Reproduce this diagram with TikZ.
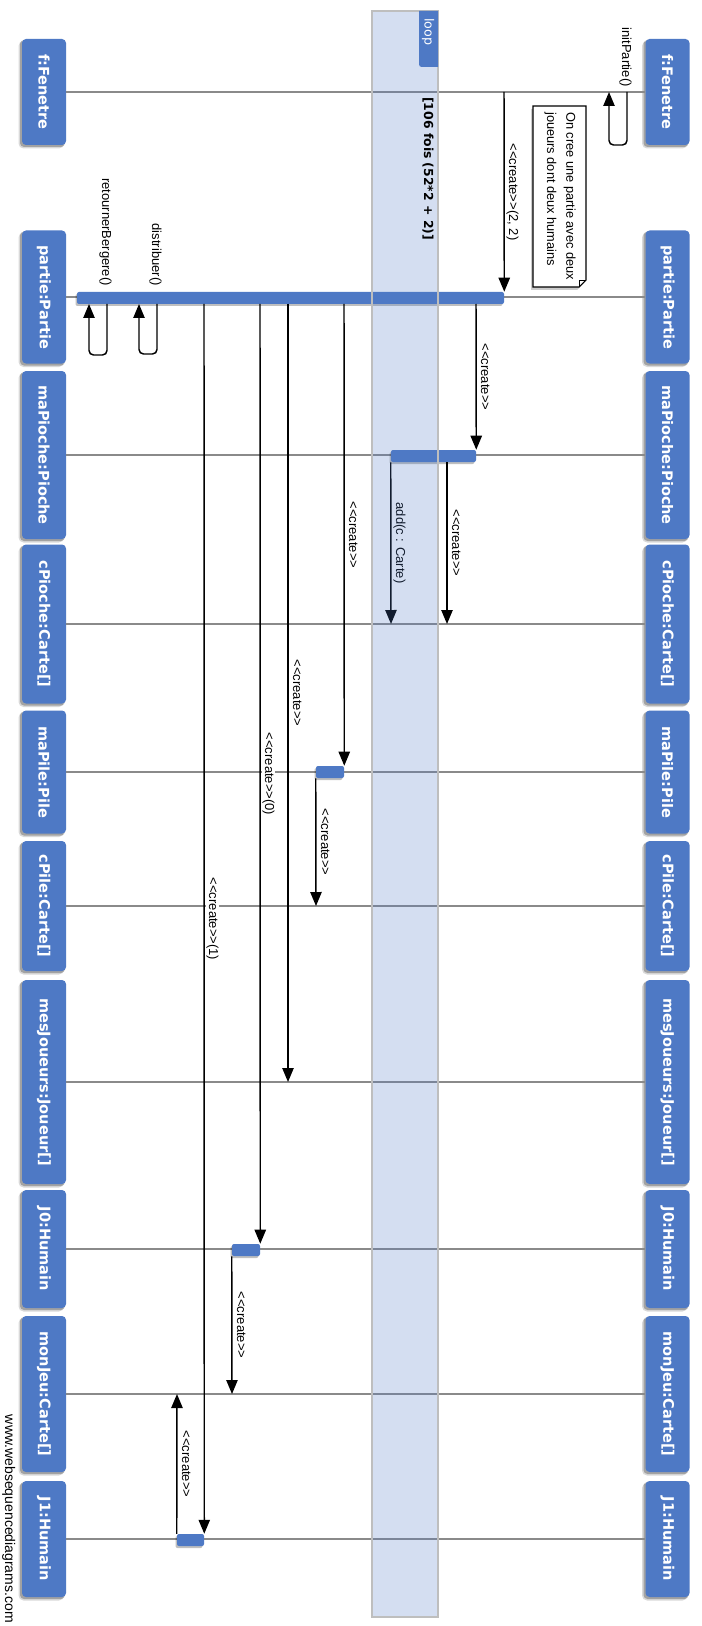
\documentclass[tikz,border=0pt]{standalone}
\usepackage{fontspec}
\newfontfamily\lblfont{Liberation Sans}
\newfontfamily\dejavu{DejaVu Sans}
\usetikzlibrary{arrows.meta}
\newdimen\upx \upx=0.75pt
\definecolor{wsdblue}{RGB}{78,121,197}
\definecolor{lifegray}{RGB}{138,138,138}
\definecolor{loopgray}{RGB}{190,190,190}
\newcommand\wsdpart[5]{%
  \fill[black, opacity=0.15, rounded corners=5\upx] ({#5-22-3.5},{#3-#4/2+2}) rectangle ({#5+22-2},{#3+#4/2+3.5});
  \fill[black, opacity=0.25, rounded corners=4\upx] ({#5-22-2},{#3-#4/2+1}) rectangle ({#5+22-1},{#3+#4/2+2});
  \node[pbox, minimum width=#4\upx] (#1) at (#5,#3) {#2};}
\newcommand\wsdbar[4]{%
  \fill[black, opacity=0.25, rounded corners=2\upx] ({#2-#4/2-1.5},{#3-6+2}) rectangle ({#2+#4/2-1.5},{#3+6+2});
  \node[abar, minimum width=#4\upx] (#1) at (#2,#3) {};}
\begin{document}
\begin{tikzpicture}[x=0.75pt,y=-0.75pt,
  pbox/.style={rotate=-90, fill=wsdblue, rounded corners=4\upx, minimum height=44\upx, inner sep=0pt, text=white, font=\dejavu\bfseries\fontsize{10.9}{13}\selectfont},
  life/.style={draw=lifegray, line width=1.1pt},
  abar/.style={fill=wsdblue, rounded corners=2\upx, minimum height=12\upx, inner sep=0pt},
  msg/.style={draw=black, line width=1.1pt, -{Triangle[length=10.5pt,width=8.5pt]}},
  selfmsg/.style={msg, rounded corners=4.5\upx},
  lbl/.style={rotate=-90, fill=white, inner sep=0.8\upx, anchor=base, font=\lblfont\fontsize{9.75}{11}\selectfont},
  slbl/.style={rotate=-90, inner sep=0pt, anchor=base east, font=\lblfont\fontsize{9.75}{11}\selectfont},
]
\useasboundingbox (0,0) rectangle (702,1626);
\fill[white] (0,0) rectangle (702,1626);

% participants (left and right columns)
\wsdpart{Lf}{f:Fenetre}{92}{106}{44}
\wsdpart{Rf}{f:Fenetre}{92}{106}{667.5}
\wsdpart{Lpartie}{partie:Partie}{297}{133}{44}
\wsdpart{Rpartie}{partie:Partie}{297}{133}{667.5}
\wsdpart{LmaPioche}{maPioche:Pioche}{455}{168}{44}
\wsdpart{RmaPioche}{maPioche:Pioche}{455}{168}{667.5}
\wsdpart{LcPioche}{cPioche:Carte[]}{624}{159}{44}
\wsdpart{RcPioche}{cPioche:Carte[]}{624}{159}{667.5}
\wsdpart{LmaPile}{maPile:Pile}{772}{123}{44}
\wsdpart{RmaPile}{maPile:Pile}{772}{123}{667.5}
\wsdpart{LcPile}{cPile:Carte[]}{906}{130}{44}
\wsdpart{RcPile}{cPile:Carte[]}{906}{130}{667.5}
\wsdpart{LmesJ}{mesJoueurs:Joueur[]}{1082}{204}{44}
\wsdpart{RmesJ}{mesJoueurs:Joueur[]}{1082}{204}{667.5}
\wsdpart{LJ0}{J0:Humain}{1249}{118}{44}
\wsdpart{RJ0}{J0:Humain}{1249}{118}{667.5}
\wsdpart{LmonJeu}{monJeu:Carte[]}{1394}{156}{44}
\wsdpart{RmonJeu}{monJeu:Carte[]}{1394}{156}{667.5}
\wsdpart{LJ1}{J1:Humain}{1539}{116}{44}
\wsdpart{RJ1}{J1:Humain}{1539}{116}{667.5}

% lifelines
\draw[life] (Lf.north) -- (Rf.south);
\draw[life] (Lpartie.north) -- (Rpartie.south);
\draw[life] (LmaPioche.north) -- (RmaPioche.south);
\draw[life] (LcPioche.north) -- (RcPioche.south);
\draw[life] (LmaPile.north) -- (RmaPile.south);
\draw[life] (LcPile.north) -- (RcPile.south);
\draw[life] (LmesJ.north) -- (RmesJ.south);
\draw[life] (LJ0.north) -- (RJ0.south);
\draw[life] (LmonJeu.north) -- (RmonJeu.south);
\draw[life] (LJ1.north) -- (RJ1.south);

% note
\fill[black, opacity=0.2] (531,109) -- (584,109) -- (584,283) -- (577,290) -- (531,290) -- cycle;
\draw[black, line width=0.8pt, fill=white] (533,106) -- (586,106) -- (586,280) -- (579,287) -- (533,287) -- cycle;
\draw[black, line width=0.6pt] (586,280) -- (579,280) -- (579,287);
\node[rotate=-90, anchor=north west, inner sep=0pt, align=left, font=\lblfont\fontsize{9.6}{14.6}\selectfont] (note) at (576,112) {On cree une partie avec deux\\joueurs dont deux humains};

% activation bars
\wsdbar{Bpartie}{290.5}{298}{427}
\wsdbar{BmaPioche}{433.5}{456}{85}
\wsdbar{BmaPile}{330}{772}{28}
\wsdbar{BJ0}{246}{1250}{28}
\wsdbar{BJ1}{190.5}{1540}{27}

% message end points
\coordinate (s1a) at (627,92);  \coordinate (s1b) at (609,92);
\coordinate (a1) at (504,92);
\coordinate (a2) at (476,304);
\coordinate (a3) at (447,462);  \coordinate (b3) at (447,624);
\coordinate (b4) at (391,624);
\coordinate (a5) at (344,304);
\coordinate (b6) at (316,906);
\coordinate (a7) at (288,304);  \coordinate (b7) at (288,1082);
\coordinate (a8) at (260,304);
\coordinate (b9) at (232,1394);
\coordinate (a10) at (204,304);
\coordinate (b11) at (177,1394);
\coordinate (d1) at (157,304);  \coordinate (d2) at (139,304);
\coordinate (r1) at (107,304);  \coordinate (r2) at (89,304);

% messages
\draw[selfmsg] (s1a) -- (627,145) -- (609,145) -- (s1b);
\node[slbl] (l1) at (622,87) {initPartie()};
\draw[msg] (a1) -- (Bpartie.north east);
\node[lbl] (l2) at (509,192) {<<create>>(2, 2)};
\draw[msg] (a2) -- (BmaPioche.north east);
\node[lbl] (l3) at (481,377) {<<create>>};
\draw[msg] (a3) -- (b3);
\node[lbl] (l4) at (452,543) {<<create>>};
\draw[msg] (BmaPioche.south west) -- (b4);
\node[lbl] (l5) at (396,543) {add(c : Carte)};
\draw[msg] (a5) -- (BmaPile.north east);
\node[lbl] (l6) at (349,535) {<<create>>};
\draw[msg] (BmaPile.south west) -- (b6);
\node[lbl] (l7) at (321,842) {<<create>>};
\draw[msg] (a7) -- (b7);
\node[lbl] (l8) at (293,693) {<<create>>};
\draw[msg] (a8) -- (BJ0.north east);
\node[lbl] (l9) at (265,774) {<<create>>(0)};
\draw[msg] (BJ0.south west) -- (b9);
\node[lbl] (l10) at (237,1325) {<<create>>};
\draw[msg] (a10) -- (BJ1.north east);
\node[lbl] (l11) at (209,919) {<<create>>(1)};
\draw[msg] (BJ1.north west) -- (b11);
\node[lbl] (l12) at (182,1464) {<<create>>};
\draw[selfmsg] (d1) -- (157,354) -- (139,354) -- (d2);
\node[slbl] (l13) at (152,286) {distribuer()};
\draw[selfmsg] (r1) -- (107,355) -- (89,355) -- (r2);
\node[slbl] (l14) at (102,286) {retournerBergere()};

% loop frame
\node[fill=wsdblue, fill opacity=0.24, draw=loopgray, line width=1.4pt, minimum width=66\upx, minimum height=1606\upx, inner sep=0pt] (loopf) at (405,814) {};
\fill[wsdblue] (419,11) -- (438,11) -- (438,67) -- (425,67) .. controls (419,67) .. (419,61) -- cycle;
\node[rotate=-90, text=white, inner sep=0pt, font=\dejavu\fontsize{9.5}{11}\selectfont] (looptag) at (428,32) {loop};
\node[rotate=-90, anchor=west, inner sep=0pt, font=\dejavu\bfseries\fontsize{9.3}{11}\selectfont] (guard) at (428,97) {[106 fois (52*2 + 2)]};

% watermark
\node[rotate=-90, anchor=base east, inner sep=0pt, font=\lblfont\fontsize{10.5}{12}\selectfont] (wm) at (5,1623) {www.websequencediagrams.com};
\end{tikzpicture}
\end{document}
